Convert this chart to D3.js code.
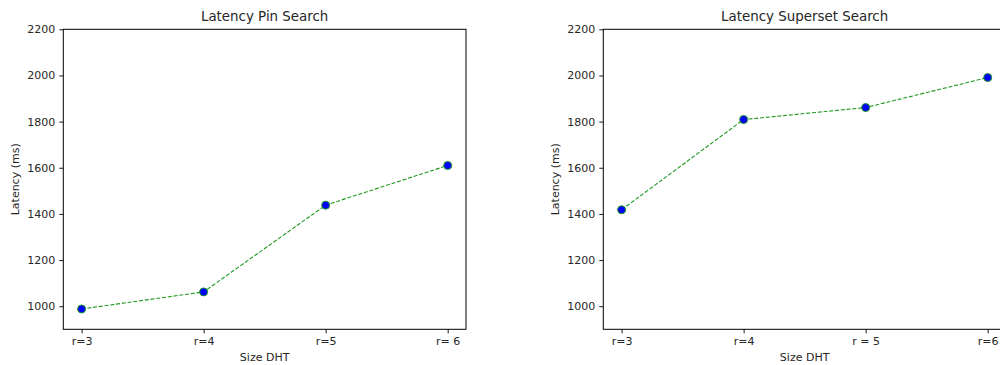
<!DOCTYPE html>
<html>
<head>
<meta charset="utf-8">
<script src="https://cdn.jsdelivr.net/npm/d3@7"></script>
<style>
  html, body { margin: 0; padding: 0; background: #fff; }
  svg { display: block; }
  text { font-family: "DejaVu Sans", sans-serif; fill: #262626; }
</style>
</head>
<body>
<svg id="chart" width="1000" height="365"></svg>
<script>
// Latency measurements per DHT size
const pinLabels = ["r=3", "r=4", "r=5", "r= 6"];
const pinLatency = [988, 1062, 1438, 1610];

const supersetLabels = ["r=3", "r=4", "r = 5", "r=6"];
const supersetLatency = [1418, 1809, 1861, 1991];

const yTicks = [1000, 1200, 1400, 1600, 1800, 2000, 2200];
const yDomain = [900, 2200];

const titles = ["Latency Pin Search", "Latency Superset Search"];
const xTitle = "Size DHT";
const yTitle = "Latency (ms)";

const svg = d3.select("#chart");

const panels = [
  { left: 63.3, title: titles[0], labels: pinLabels, values: pinLatency },
  { left: 603.3, title: titles[1], labels: supersetLabels, values: supersetLatency }
];

const plotTop = 29.3, plotW = 402.7, plotH = 300;
const lineColor = "#1f9a1f";

panels.forEach(p => {
  const g = svg.append("g").attr("transform", `translate(${p.left},${plotTop})`);

  const x = d3.scaleLinear().domain([-0.15, p.labels.length - 1 + 0.15]).range([0, plotW]);
  const y = d3.scaleLinear().domain(yDomain).range([plotH, 0]);

  // axes
  const xAxis = d3.axisBottom(x)
    .tickValues(d3.range(p.labels.length))
    .tickFormat(i => p.labels[i])
    .tickSize(4).tickPadding(4);
  const yAxis = d3.axisLeft(y)
    .tickValues(yTicks)
    .tickFormat(d3.format("d"))
    .tickSize(4).tickPadding(4);

  const gx = g.append("g").attr("transform", `translate(0,${plotH})`).call(xAxis);
  const gy = g.append("g").call(yAxis);
  [gx, gy].forEach(a => {
    a.select(".domain").remove();
    a.selectAll(".tick line").attr("stroke", "#000").attr("stroke-width", 0.9);
    a.selectAll(".tick text").style("font-size", "11px").attr("fill", "#262626");
  });

  // frame
  g.append("rect")
    .attr("x", 0).attr("y", 0).attr("width", plotW).attr("height", plotH)
    .attr("fill", "none").attr("stroke", "#000").attr("stroke-width", 1);

  // dashed connecting line
  const line = d3.line().x((d, i) => x(i)).y(d => y(d));
  g.append("path")
    .datum(p.values)
    .attr("d", line)
    .attr("fill", "none")
    .attr("stroke", lineColor)
    .attr("stroke-width", 1.1)
    .attr("stroke-dasharray", "4,1.8");

  // markers
  g.selectAll("circle.pt")
    .data(p.values)
    .join("circle")
    .attr("class", "pt")
    .attr("cx", (d, i) => x(i))
    .attr("cy", d => y(d))
    .attr("r", 4)
    .attr("fill", "#0000ff")
    .attr("stroke", lineColor)
    .attr("stroke-width", 1);

  // titles
  g.append("text")
    .attr("x", plotW / 2).attr("y", -8)
    .attr("text-anchor", "middle")
    .style("font-size", "13.4px")
    .text(p.title);

  g.append("text")
    .attr("x", plotW / 2).attr("y", plotH + 32)
    .attr("text-anchor", "middle")
    .style("font-size", "11px")
    .text(xTitle);

  g.append("text")
    .attr("transform", `translate(${-44},${plotH / 2}) rotate(-90)`)
    .attr("text-anchor", "middle")
    .style("font-size", "11px")
    .text(yTitle);
});
</script>
</body>
</html>
